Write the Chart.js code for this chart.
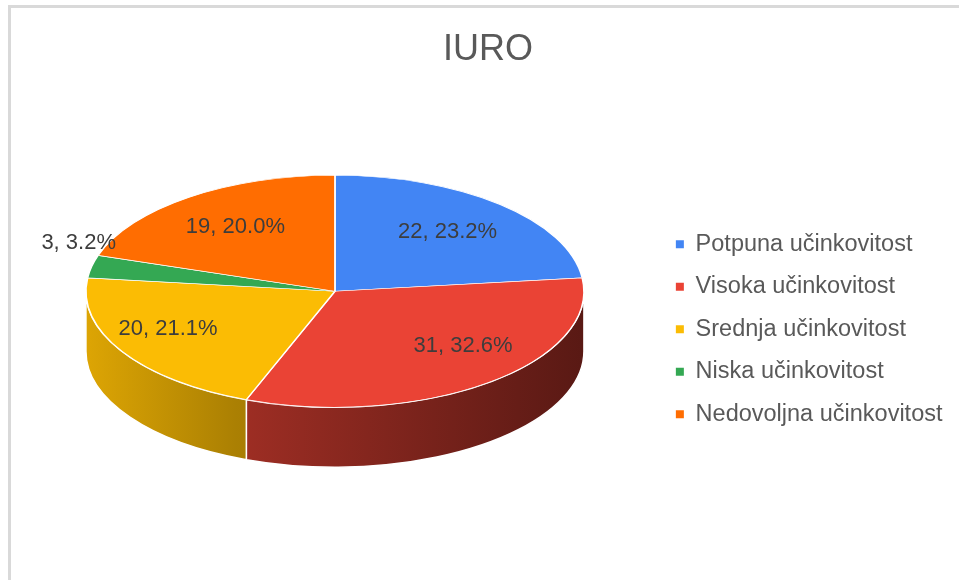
<!DOCTYPE html>
<html lang="hr">
<head>
    <meta charset="UTF-8">
    <title>IURO</title>
    <style>
        html, body { margin: 0; padding: 0; background: #fff; }
        #wrap { position: relative; width: 959px; height: 580px; overflow: hidden; }
        /* grey frame of the original screenshot */
        #frame { position: absolute; left: 8px; top: 5px; width: 990px; height: 600px;
                 border-top: 3px solid #d9d9d9; border-left: 3px solid #d9d9d9; }
        #pieChart { position: absolute; left: 0; top: 0; }
    </style>
</head>
<body>
<div id="wrap">
    <div id="frame"></div>
    <canvas id="pieChart" width="959" height="580"></canvas>
</div>

<script src="https://cdn.jsdelivr.net/npm/chart.js"></script>
<script>
    // data
    const labels = ['Potpuna učinkovitost', 'Visoka učinkovitost', 'Srednja učinkovitost', 'Niska učinkovitost', 'Nedovoljna učinkovitost'];
    const counts = [22, 31, 20, 3, 19];
    const colors = ['#4285f4', '#ea4335', '#fbbc04', '#34a853', '#ff6d01'];

    const total = counts.reduce((a, b) => a + b, 0);

    // tilted look: the flat pie is squashed into an ellipse and given a side wall
    const PIE = { rx: 249, ry: 116, depth: 60, dx: -5.25, dy: -38 };
    const LABEL_R = 0.68;

    function shade(hex, f) {
        const n = parseInt(hex.slice(1), 16);
        const r = Math.round(((n >> 16) & 255) * f);
        const g = Math.round(((n >> 8) & 255) * f);
        const b = Math.round((n & 255) * f);
        return `rgb(${r},${g},${b})`;
    }

    function geom(chart) {
        const arcs = chart.getDatasetMeta(0).data;
        const a0 = arcs[0];
        return {
            arcs,
            ox: a0.x, oy: a0.y, R: a0.outerRadius,
            cx: a0.x + PIE.dx, cy: a0.y + PIE.dy
        };
    }

    const pie3d = {
        id: 'pie3d',
        beforeDatasetsDraw(chart) {
            const ctx = chart.ctx;
            const g = geom(chart);

            // side wall, only the front half (angles 0..PI) is visible
            g.arcs.forEach((arc, i) => {
                const a1 = Math.max(arc.startAngle, 0);
                const a2 = Math.min(arc.endAngle, Math.PI);
                if (a2 <= a1) return;
                const grad = ctx.createLinearGradient(g.cx - PIE.rx, 0, g.cx + PIE.rx, 0);
                grad.addColorStop(0, shade(colors[i], 0.88));
                grad.addColorStop(0.3, shade(colors[i], 0.68));
                grad.addColorStop(1, shade(colors[i], 0.38));
                ctx.beginPath();
                ctx.ellipse(g.cx, g.cy, PIE.rx, PIE.ry, 0, a1, a2);
                ctx.ellipse(g.cx, g.cy + PIE.depth, PIE.rx, PIE.ry, 0, a2, a1, true);
                ctx.closePath();
                ctx.fillStyle = grad;
                ctx.fill();
                ctx.strokeStyle = '#ffffff';
                ctx.lineWidth = 1.5;
                ctx.stroke();
            });

            // top face: let Chart.js draw the slices inside a squashed context
            ctx.save();
            ctx.translate(g.cx, g.cy);
            ctx.scale(PIE.rx / g.R, PIE.ry / g.R);
            ctx.translate(-g.ox, -g.oy);
        },
        afterDatasetsDraw(chart) {
            const ctx = chart.ctx;
            ctx.restore();
            const g = geom(chart);

            ctx.save();
            ctx.font = '22px "Liberation Sans", Arial, sans-serif';
            ctx.fillStyle = '#3d3d3d';
            g.arcs.forEach((arc, i) => {
                const mid = (arc.startAngle + arc.endAngle) / 2;
                const text = counts[i] + ', ' + (counts[i] / total * 100).toFixed(1) + '%';
                ctx.textBaseline = 'middle';
                if (counts[i] / total < 0.05) {
                    // small slice: label outside on the left
                    ctx.textAlign = 'right';
                    ctx.fillText(text, g.cx + 0.9 * PIE.rx * Math.cos(mid), g.cy + PIE.ry * Math.sin(mid) - 24);
                } else {
                    // front slices look wider, push their labels a bit outwards
                    const front = Math.max(0, Math.sin(mid));
                    const kx = LABEL_R + 0.2 * front;
                    const ky = LABEL_R - 0.1 * front;
                    ctx.textAlign = 'center';
                    ctx.fillText(text, g.cx + kx * PIE.rx * Math.cos(mid), g.cy + ky * PIE.ry * Math.sin(mid));
                }
            });
            ctx.restore();
        }
    };

    Chart.defaults.font.family = '"Liberation Sans", Arial, sans-serif';

    const config = {
        type: 'pie',
        data: {
            labels: labels,
            datasets: [{
                data: counts,
                backgroundColor: colors,
                borderColor: '#ffffff',
                borderWidth: 1.5
            }]
        },
        options: {
            responsive: false,
            animation: false,
            events: [],
            layout: {
                padding: { left: 23.5, right: 6.5, top: 10, bottom: 16 }
            },
            plugins: {
                title: {
                    display: true,
                    text: 'IURO',
                    color: '#595959',
                    font: { size: 36, weight: 'normal' },
                    padding: { top: 18, bottom: 23.3 }
                },
                legend: {
                    position: 'right',
                    fullSize: false,
                    labels: {
                        boxWidth: 8,
                        boxHeight: 8,
                        padding: 19,
                        color: '#595959',
                        font: { size: 23.5 },
                        generateLabels(chart) {
                            return Chart.overrides.pie.plugins.legend.labels.generateLabels(chart)
                                .map(l => Object.assign(l, { lineWidth: 0 }));
                        }
                    }
                },
                tooltip: { enabled: false }
            }
        },
        plugins: [pie3d]
    };

    new Chart(document.getElementById('pieChart').getContext('2d'), config);
</script>
</body>
</html>
